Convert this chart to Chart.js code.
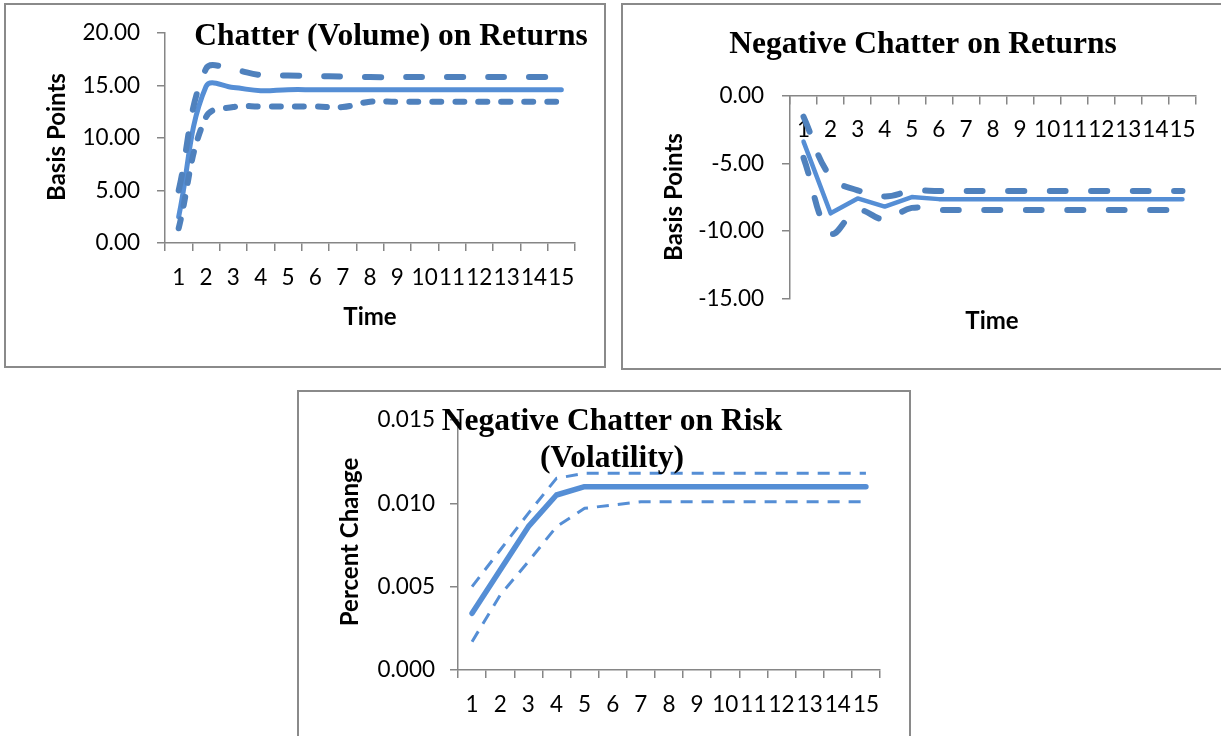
<!DOCTYPE html>
<html>
<head>
<meta charset="utf-8">
<title>Impulse responses</title>
<script src="https://cdn.jsdelivr.net/npm/chart.js@4.4.1/dist/chart.umd.min.js"></script>
<style>
  html, body { margin: 0; padding: 0; background: #fff; }
  body { width: 1221px; height: 736px; position: relative; overflow: hidden; }
  .box { position: absolute; border: 2px solid #8a8a8a; box-sizing: border-box; }
  canvas { position: absolute; left: 0; top: 0; }
</style>
</head>
<body>
<div class="box" style="left:4px;top:3px;width:602px;height:365px"></div>
<div class="box" style="left:621px;top:3px;width:610px;height:367px"></div>
<div class="box" style="left:297px;top:390px;width:614px;height:400px"></div>
<canvas id="chart-vol" width="1221" height="736"></canvas>
<canvas id="chart-neg" width="1221" height="736"></canvas>
<canvas id="chart-risk" width="1221" height="736"></canvas>
<script>
// periods after the shock
var periods = ['1', '2', '3', '4', '5', '6', '7', '8', '9', '10', '11', '12', '13', '14', '15'];

// Chatter (Volume) on Returns, basis points
var volIrf   = [2.5, 14.9, 14.8, 14.5, 14.6, 14.6, 14.6, 14.6, 14.6, 14.6, 14.6, 14.6, 14.6, 14.6, 14.6];
var volUpper = [5.0, 16.6, 16.5, 16.0, 15.95, 15.9, 15.85, 15.8, 15.8, 15.8, 15.8, 15.8, 15.8, 15.8, 15.8];
var volLower = [1.4, 12.0, 12.95, 13.0, 13.0, 13.0, 12.95, 13.45, 13.45, 13.45, 13.45, 13.45, 13.45, 13.45, 13.45];

// Negative Chatter on Returns, basis points
var negIrf   = [-3.4, -8.7, -7.6, -8.2, -7.5, -7.65, -7.65, -7.65, -7.65, -7.65, -7.65, -7.65, -7.65, -7.65, -7.65];
var negUpper = [-1.55, -6.0, -7.0, -7.45, -7.05, -7.05, -7.05, -7.05, -7.05, -7.05, -7.05, -7.05, -7.05, -7.05, -7.05];
var negLower = [-4.6, -10.15, -8.5, -9.15, -8.3, -8.45, -8.45, -8.45, -8.45, -8.45, -8.45, -8.45, -8.45, -8.45, -8.45];

// Negative Chatter on Risk (Volatility), percent change
var riskIrf   = [0.0034, 0.0060, 0.0086, 0.0105, 0.0110, 0.0110, 0.0110, 0.0110, 0.0110, 0.0110, 0.0110, 0.0110, 0.0110, 0.0110, 0.0110];
var riskUpper = [0.0050, 0.0072, 0.0094, 0.0115, 0.0118, 0.0118, 0.0118, 0.0118, 0.0118, 0.0118, 0.0118, 0.0118, 0.0118, 0.0118, 0.0118];
var riskLower = [0.0017, 0.0045, 0.0065, 0.0086, 0.0097, 0.0099, 0.0101, 0.0101, 0.0101, 0.0101, 0.0101, 0.0101, 0.0101, 0.0101, 0.0101];

var lightBlue = '#558ED5';
var darkBlue = '#4F81BD';
var axisGray = '#868686';
var tickFont = { family: 'Lato', size: 22.5 };
var titleFont = 'bold 31.5px "Liberation Serif", "Times New Roman", serif';
var axisTitleFont = 'bold 24px Lato, sans-serif';

Chart.defaults.font.family = 'Lato';

// titles are drawn on top of the plot, like the Excel originals
function textLayer(items) {
    return {
        id: 'textLayer',
        afterDraw: function(chart) {
            var ctx = chart.ctx;
            items.forEach(function(t) {
                ctx.save();
                ctx.font = t.font;
                ctx.fillStyle = '#000';
                ctx.textAlign = 'center';
                ctx.textBaseline = t.base || 'alphabetic';
                ctx.translate(t.x, t.y);
                if (t.rot) ctx.rotate(t.rot);
                ctx.fillText(t.text, 0, 0);
                ctx.restore();
            });
        }
    };
}

function line(data, color, width, dash, tension, cap) {
    return {
        data: data,
        borderColor: color,
        backgroundColor: color,
        borderWidth: width,
        borderDash: dash,
        borderCapStyle: cap || 'round',
        borderJoinStyle: 'round',
        tension: tension,
        pointRadius: 0,
        fill: false
    };
}

// y axis box is 120px wide so the tick labels are never clipped
function yScale(min, max, step, decimals, pad) {
    return {
        min: min,
        max: max,
        ticks: {
            stepSize: step,
            padding: pad,
            color: '#000',
            font: tickFont,
            callback: function(v) { return Number(v).toFixed(decimals); }
        },
        grid: { drawOnChartArea: false, tickLength: 8, color: axisGray, lineWidth: 1.5 },
        border: { color: axisGray, width: 1.5 },
        afterFit: function(s) { s.width = 120; }
    };
}

function xScale(pad) {
    return {
        type: 'category',
        offset: true,
        ticks: { autoSkip: false, maxRotation: 0, minRotation: 0, padding: pad, color: '#000', font: tickFont },
        grid: { offset: true, drawOnChartArea: false, tickLength: 8, color: axisGray, lineWidth: 1.5 },
        border: { color: axisGray, width: 1.5 },
        afterFit: function(s) { s.height = 60; }
    };
}

function baseOptions(padding, scales) {
    return {
        responsive: false,
        animation: false,
        events: [],
        layout: { padding: padding },
        plugins: { legend: { display: false }, tooltip: { enabled: false } },
        scales: scales
    };
}

// chart 1
new Chart(document.getElementById('chart-vol'), {
    type: 'line',
    data: {
        labels: periods,
        datasets: [
            line(volUpper, darkBlue, 6, [16, 25], 0.4),
            line(volLower, darkBlue, 6, [9, 14], 0.4),
            line(volIrf, lightBlue, 5, [], 0.4)
        ]
    },
    options: baseOptions({ left: 45, top: 33, right: 646, bottom: 433 }, {
        x: xScale(13),
        y: yScale(0, 20, 5, 2, 17)
    }),
    plugins: [textLayer([
        { text: 'Chatter (Volume) on Returns', x: 391, y: 45, font: titleFont },
        { text: 'Basis Points', x: 57, y: 137, rot: -Math.PI / 2, base: 'middle', font: axisTitleFont },
        { text: 'Time', x: 370, y: 317, base: 'middle', font: axisTitleFont }
    ])]
});

// chart 2: category axis sits on the zero line at the top
var negX = xScale(13);
negX.position = { y: 0 };
new Chart(document.getElementById('chart-neg'), {
    type: 'line',
    data: {
        labels: periods,
        datasets: [
            line(negUpper, darkBlue, 6, [16, 25.5], 0.4),
            line(negLower, darkBlue, 6, [16, 25.5], 0.4),
            line(negIrf, lightBlue, 4.5, [], 0)
        ]
    },
    options: baseOptions({ left: 670, top: 95.7, right: 25, bottom: 437.5 }, {
        x: negX,
        y: yScale(-15, 0, 5, 2, 18)
    }),
    plugins: [textLayer([
        { text: 'Negative Chatter on Returns', x: 923, y: 53, font: titleFont },
        { text: 'Basis Points', x: 674, y: 197, rot: -Math.PI / 2, base: 'middle', font: axisTitleFont },
        { text: 'Time', x: 992, y: 321, base: 'middle', font: axisTitleFont }
    ])]
});

// chart 3
new Chart(document.getElementById('chart-risk'), {
    type: 'line',
    data: {
        labels: periods,
        datasets: [
            line(riskUpper, lightBlue, 3, [12, 9], 0, 'butt'),
            line(riskLower, lightBlue, 3, [12, 9], 0, 'butt'),
            line(riskIrf, lightBlue, 5.5, [], 0)
        ]
    },
    options: baseOptions({ left: 338, top: 420, right: 341, bottom: 6 }, {
        x: xScale(13),
        y: yScale(0, 0.015, 0.005, 3, 15)
    }),
    plugins: [textLayer([
        { text: 'Negative Chatter on Risk', x: 612, y: 430, font: titleFont },
        { text: '(Volatility)', x: 612, y: 467, font: titleFont },
        { text: 'Percent Change', x: 350, y: 542, rot: -Math.PI / 2, base: 'middle', font: axisTitleFont }
    ])]
});
</script>
</body>
</html>
